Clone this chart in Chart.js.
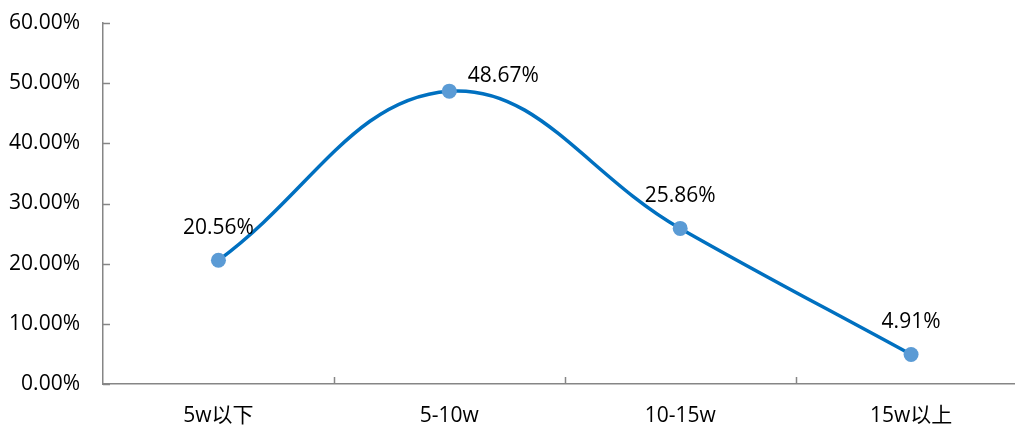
<!DOCTYPE html>
<html>
<head>
<meta charset="utf-8">
<script src="https://cdn.jsdelivr.net/npm/chart.js@4/dist/chart.umd.min.js"></script>
<style>
  html, body { margin: 0; padding: 0; background: #fff; overflow: hidden; }
</style>
</head>
<body>
<canvas id="chart" width="1034" height="426"></canvas>
<script>
const categories = ["5w以下", "5-10w", "10-15w", "15w以上"];
const shares = [20.56, 48.67, 25.86, 4.91];
const yTicks = [0, 10, 20, 30, 40, 50, 60];

const FONT = '"Open Sans", "Noto Sans CJK SC", sans-serif';
const AXIS_COLOR = "#868686";

// label offsets relative to each point
const labelOffsets = [[0, -32], [54, -15], [0, -32], [0, -32]];

const innerTicks = {
    id: "innerTicks",
    afterDraw(chart) {
        const ctx = chart.ctx;
        const x = chart.scales.x;
        const y = chart.scales.y;
        ctx.save();
        ctx.strokeStyle = AXIS_COLOR;
        ctx.lineWidth = 1.5;
        ctx.beginPath();
        yTicks.forEach(v => {
            const py = Math.round(y.getPixelForValue(v)) + 0.5;
            ctx.moveTo(x.left, py);
            ctx.lineTo(x.left + 7, py);
        });
        for (let i = 0; i < categories.length - 1; i++) {
            const px = Math.round((x.getPixelForValue(i) + x.getPixelForValue(i + 1)) / 2) + 0.5;
            ctx.moveTo(px, y.bottom);
            ctx.lineTo(px, y.bottom - 7);
        }
        ctx.stroke();
        ctx.restore();
    }
};

const pointLabels = {
    id: "pointLabels",
    afterDatasetsDraw(chart) {
        const ctx = chart.ctx;
        const meta = chart.getDatasetMeta(0);
        ctx.save();
        ctx.font = "21px " + FONT;
        ctx.fillStyle = "#000";
        ctx.textAlign = "center";
        ctx.textBaseline = "middle";
        meta.data.forEach((pt, i) => {
            ctx.fillText(shares[i].toFixed(2) + "%", pt.x + labelOffsets[i][0], pt.y + labelOffsets[i][1]);
        });
        ctx.restore();
    }
};

new Chart(document.getElementById("chart").getContext("2d"), {
    type: "line",
    data: {
        labels: categories,
        datasets: [
            {
                data: shares,
                borderColor: "#0070C0",
                borderWidth: 3.5,
                tension: 0.4,
                pointRadius: 7.5,
                pointBackgroundColor: "#5B9BD5",
                pointBorderWidth: 0,
                fill: false,
            },
        ],
    },
    options: {
        responsive: false,
        animation: false,
        layout: { padding: { top: 23, right: 7, left: 0, bottom: 0 } },
        plugins: {
            legend: { display: false },
            tooltip: { enabled: false },
        },
        scales: {
            x: {
                offset: true,
                grid: { display: false, drawTicks: false },
                border: { display: true, color: AXIS_COLOR, width: 1.5 },
                ticks: {
                    padding: 19,
                    color: "#000",
                    font: { family: FONT, size: 21 },
                    maxRotation: 0,
                },
                afterFit(scale) {
                    scale.height = 42;
                    scale.paddingLeft = 0;
                    scale.paddingRight = 0;
                },
            },
            y: {
                min: 0,
                max: 60,
                grid: { display: false, drawTicks: false },
                border: { display: true, color: AXIS_COLOR, width: 1.5 },
                ticks: {
                    stepSize: 10,
                    padding: 23,
                    color: "#000",
                    font: { family: FONT, size: 21 },
                    callback: v => v.toFixed(2) + "%",
                },
                afterFit(scale) {
                    scale.width = 103;
                    scale.paddingTop = 0;
                    scale.paddingBottom = 0;
                },
            },
        },
    },
    plugins: [innerTicks, pointLabels],
});
</script>
</body>
</html>
